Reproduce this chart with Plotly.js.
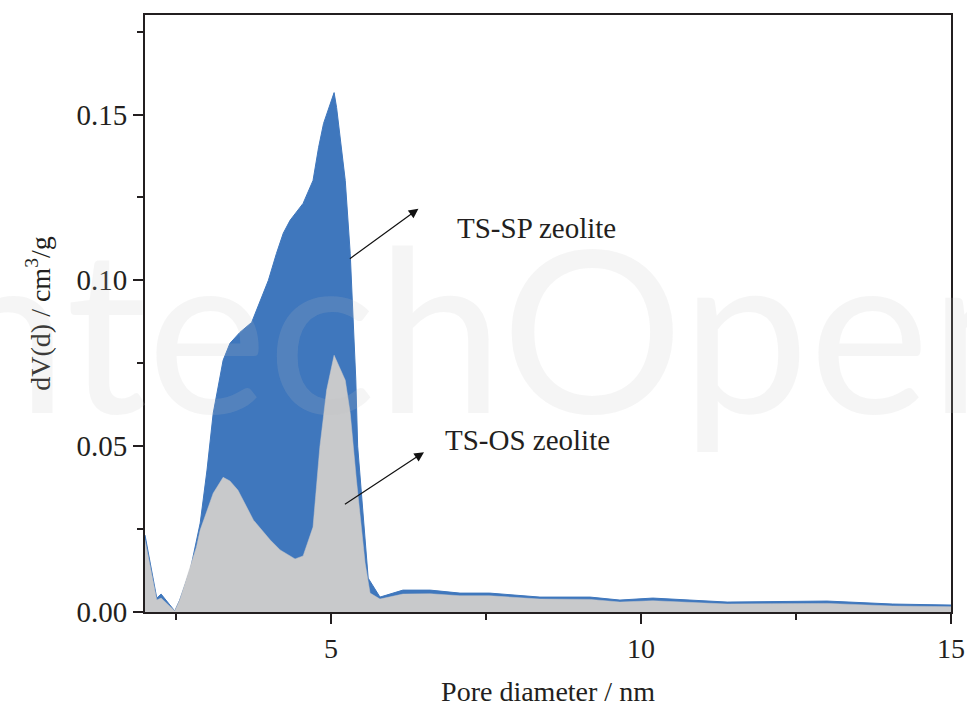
<!DOCTYPE html>
<html>
<head>
<meta charset="utf-8">
<script src="https://cdn.plot.ly/plotly-3.0.1.min.js"></script>
<style>html,body{margin:0;padding:0;background:#fff;}#chart{width:967px;height:707px;}</style>
</head>
<body>
<div id="chart"></div>
<script>
// TS-SP zeolite (blue)
const spX = [2.00, 2.19, 2.26, 2.48, 2.56, 2.73, 2.89, 3.00, 3.10, 3.21, 3.26, 3.37, 3.53, 3.72, 3.85, 3.99, 4.12, 4.23, 4.34, 4.55, 4.71, 4.80, 4.88, 5.05, 5.09, 5.23, 5.31, 5.36, 5.40, 5.43, 5.50, 5.55, 5.60, 5.79, 6.16, 6.60, 7.08, 7.56, 8.37, 9.18, 9.66, 10.19, 11.39, 13.00, 14.06, 15.00];
const spY = [0.0232, 0.0042, 0.0054, 0.0003, 0.0036, 0.0127, 0.0268, 0.0428, 0.0599, 0.0714, 0.0759, 0.0810, 0.0843, 0.0873, 0.0934, 0.1000, 0.1081, 0.1142, 0.1181, 0.1232, 0.1301, 0.1401, 0.1473, 0.1566, 0.1521, 0.1301, 0.1081, 0.0870, 0.0700, 0.0500, 0.0346, 0.0226, 0.0102, 0.0045, 0.0066, 0.0066, 0.0057, 0.0057, 0.0045, 0.0045, 0.0036, 0.0042, 0.0030, 0.0033, 0.0024, 0.0021];
// TS-OS zeolite (gray)
const osX = [2.00, 2.19, 2.26, 2.48, 2.56, 2.83, 2.89, 3.10, 3.26, 3.37, 3.50, 3.75, 4.02, 4.18, 4.42, 4.55, 4.71, 4.82, 4.93, 5.05, 5.23, 5.31, 5.41, 5.55, 5.63, 5.79, 6.16, 6.60, 7.08, 7.56, 8.37, 9.18, 9.66, 10.19, 11.39, 13.00, 14.06, 15.00];
const osY = [0.0217, 0.0036, 0.0042, 0.0003, 0.0036, 0.0196, 0.0247, 0.0358, 0.0406, 0.0395, 0.0367, 0.0277, 0.0217, 0.0187, 0.0160, 0.0169, 0.0256, 0.0497, 0.0669, 0.0774, 0.0699, 0.0599, 0.0398, 0.0148, 0.0057, 0.0039, 0.0054, 0.0055, 0.0049, 0.0049, 0.0039, 0.0038, 0.0030, 0.0034, 0.0024, 0.0026, 0.0018, 0.0016];
const xTickVals = [5, 10, 15];
const xTickText = ["5", "10", "15"];
const yTickVals = [0, 0.05, 0.10, 0.15];
const yTickText = ["0.00", "0.05", "0.10", "0.15"];
const labelSP = "TS-SP zeolite";
const labelOS = "TS-OS zeolite";
const watermark = "IntechOpen";

const serif = "Liberation Serif, Times New Roman, serif";
const axisColor = "#231f20";
const textColor = "#231f20";

const traces = [
  {x: spX, y: spY, type: "scatter", mode: "lines", fill: "tozeroy",
   fillcolor: "#3f77bd", line: {color: "#3f77bd", width: 1}, name: labelSP, hoverinfo: "skip"},
  {x: osX, y: osY, type: "scatter", mode: "lines", fill: "tozeroy",
   fillcolor: "#c8c9cb", line: {color: "#c8c9cb", width: 0.5}, name: labelOS, hoverinfo: "skip"}
];

const layout = {
  width: 967, height: 707,
  margin: {l: 145, r: 16, t: 15, b: 95},
  paper_bgcolor: "#ffffff", plot_bgcolor: "#ffffff",
  showlegend: false,
  font: {family: serif, size: 28, color: textColor},
  xaxis: {
    range: [2, 15], showgrid: false, zeroline: false,
    showline: true, linecolor: axisColor, linewidth: 2, mirror: true,
    ticks: "outside", ticklen: 10, tickwidth: 2, tickcolor: axisColor,
    tickvals: xTickVals, ticktext: xTickText,
    minor: {dtick: 2.5, tick0: 0, ticks: "outside", ticklen: 6, tickwidth: 2, tickcolor: axisColor},
    tickfont: {family: serif, size: 28, color: textColor},
    title: {text: "Pore diameter / nm", font: {family: serif, size: 28, color: textColor}, standoff: 26}
  },
  yaxis: {
    range: [0, 0.18], showgrid: false, zeroline: false,
    showline: true, linecolor: axisColor, linewidth: 2, mirror: true,
    ticks: "outside", ticklen: 10, tickwidth: 2, tickcolor: axisColor,
    tickvals: yTickVals, ticktext: yTickText,
    minor: {dtick: 0.025, tick0: 0, ticks: "outside", ticklen: 6, tickwidth: 2, tickcolor: axisColor},
    tickfont: {family: serif, size: 29, color: textColor},
    title: {text: "dV(d) / cm<sup>3</sup>/g", font: {family: serif, size: 28, color: textColor}, standoff: 18}
  },
  annotations: [
    {text: watermark, xref: "paper", yref: "paper", x: 0.40, y: 0.48, xanchor: "center", yanchor: "middle",
     showarrow: false, font: {family: "Lato, sans-serif", size: 228, color: "rgba(190,190,190,0.16)"}},
    {x: 6.41, y: 0.1216, ax: 5.28, ay: 0.1062, xref: "x", yref: "y", axref: "x", ayref: "y",
     text: "", showarrow: true, arrowhead: 2, arrowsize: 1.6, arrowwidth: 1.2, arrowcolor: "#111"},
    {x: 6.50, y: 0.0482, ax: 5.20, ay: 0.0322, xref: "x", yref: "y", axref: "x", ayref: "y",
     text: "", showarrow: true, arrowhead: 2, arrowsize: 1.6, arrowwidth: 1.2, arrowcolor: "#111"},
    {x: 7.0, y: 0.1157, xref: "x", yref: "y", xanchor: "left", yanchor: "middle", showarrow: false,
     text: labelSP, font: {family: serif, size: 29, color: textColor}},
    {x: 6.81, y: 0.0518, xref: "x", yref: "y", xanchor: "left", yanchor: "middle", showarrow: false,
     text: labelOS, font: {family: serif, size: 29, color: textColor}}
  ]
};

Plotly.newPlot("chart", traces, layout, {staticPlot: true, displayModeBar: false});
</script>
</body>
</html>
